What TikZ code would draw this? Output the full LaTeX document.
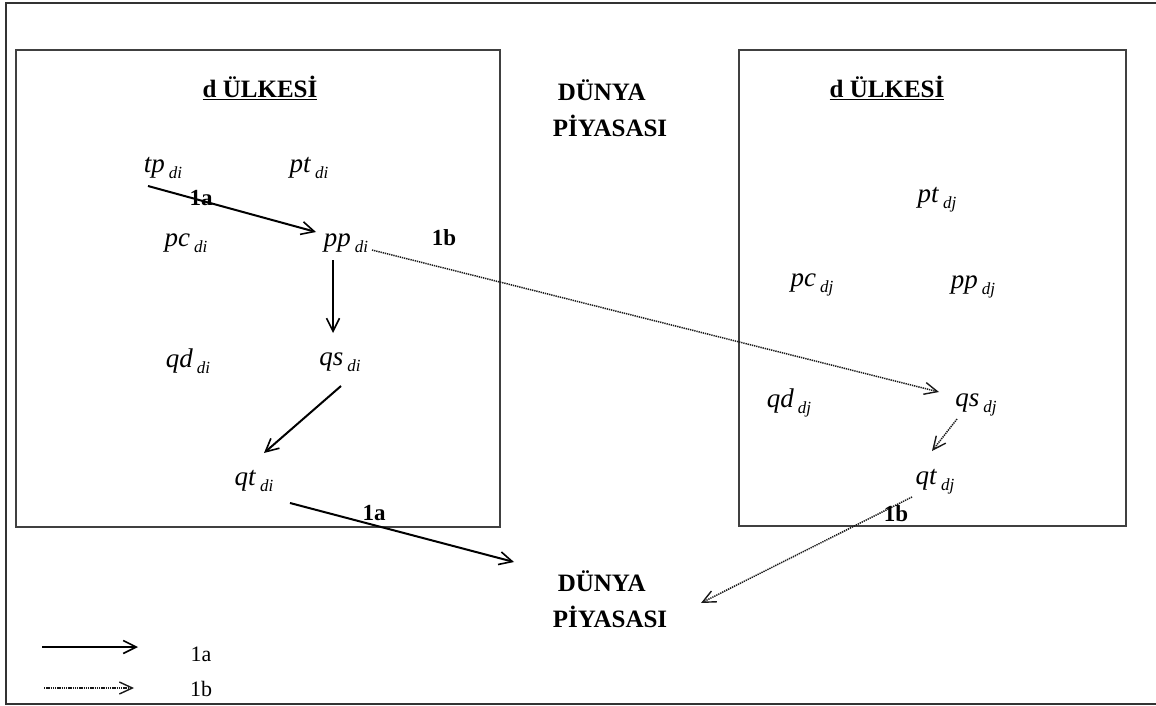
\documentclass[tikz,border=0pt]{standalone}
\usepackage{fontspec}
\setmainfont{Liberation Serif}
\usetikzlibrary{arrows.meta}

% italic variable with a lowered, smaller subscript
\newcommand{\var}[2]{\textit{#1}\hspace{4pt}{\fontsize{17}{17}\selectfont\raisebox{-6pt}{\textit{#2}}}}

\tikzset{
  frame/.style={draw=black!80, line width=1.5pt},
  box/.style={draw=black!75, line width=1.3pt},
  title/.style={font=\fontsize{25}{25}\selectfont\bfseries, inner sep=0pt},
  market/.style={font=\fontsize{25}{36}\selectfont\bfseries, align=left, inner sep=0pt},
  var/.style={font=\fontsize{27}{27}\selectfont, inner sep=2pt},
  tag/.style={font=\fontsize{23}{23}\selectfont\bfseries, inner sep=0pt},
  legtxt/.style={font=\fontsize{22}{22}\selectfont, inner sep=0pt},
  flowa/.style={line width=2pt, -{Straight Barb[length=13pt,width=13pt,line width=1.6pt]}},
  flowb/.style={line width=1.5pt, dash pattern=on 1.3pt off 0.9pt, black!90,
                -{Straight Barb[length=13pt,width=12pt,line width=1.4pt]}}
}

\begin{document}
\begin{tikzpicture}[x=1pt,y=-1pt]
\useasboundingbox (0,0) rectangle (1156,706);
\fill[white] (0,0) rectangle (1156,706);

% outer frame (right side runs past the page edge)
\begin{scope}
\clip (0,0) rectangle (1156,706);
\draw[frame] (6,3) rectangle (1170,704);
\end{scope}

% the two countries
\draw[box] (16,50) rectangle (500,527);
\draw[box] (739,50) rectangle (1126,526);

\node[title] (ti) at (260,88) {\underline{d ÜLKESİ}};
\node[title] (tj) at (887,88) {\underline{d ÜLKESİ}};

% world market labels
\node[market] (wtop) at (610,108) {\hspace{5pt}DÜNYA\\PİYASASI};
\node[market] (wbot) at (610,599) {\hspace{5pt}DÜNYA\\PİYASASI};

% country i variables
\node[var] (tpi) at (163,168) {\var{tp}{di}};
\node[var] (pti) at (309,168) {\var{pt}{di}};
\node[var] (pci) at (186,243) {\var{pc}{di}};
\node[var] (ppi) at (346,243) {\var{pp}{di}};
\node[var] (qdi) at (188,361) {\var{qd}{di}};
\node[var] (qsi) at (340,362) {\var{qs}{di}};
\node[var] (qti) at (254,481) {\var{qt}{di}};

% country j variables
\node[var] (ptj) at (937,200) {\var{pt}{dj}};
\node[var] (pcj) at (812,285) {\var{pc}{dj}};
\node[var] (ppj) at (973,287) {\var{pp}{dj}};
\node[var] (qdj) at (789,403) {\var{qd}{dj}};
\node[var] (qsj) at (976,405) {\var{qs}{dj}};
\node[var] (qtj) at (935,482) {\var{qt}{dj}};

% anchor points for the flows
\coordinate (a1) at (148,186);
\coordinate (a2) at (316,232);
\coordinate (b1) at (333,260);
\coordinate (b2) at (333,333);
\coordinate (c1) at (341,386);
\coordinate (c2) at (264,453);
\coordinate (d1) at (290,503);
\coordinate (d2) at (514,562);
\coordinate (e1) at (372,250);
\coordinate (e2) at (939,392);
\coordinate (f1) at (957,419);
\coordinate (f2) at (932,451);
\coordinate (g1) at (912,497);
\coordinate (g2) at (701,603);

% path 1a
\draw[flowa] (a1) -- (a2);
\draw[flowa] (b1) -- (b2);
\draw[flowa] (c1) -- (c2);
\draw[flowa] (d1) -- (d2);
\node[tag] (l1) at (201,198) {1a};
\node[tag] (l2) at (374,513) {1a};

% path 1b
\draw[flowb] (e1) -- (e2);
\draw[flowb] (f1) -- (f2);
\draw[flowb] (g1) -- (g2);
\node[tag] (l3) at (444,238) {1b};
\node[tag] (l4) at (896,514) {1b};

% legend
\coordinate (la1) at (42,647);
\coordinate (la2) at (138,647);
\coordinate (lb1) at (44,688);
\coordinate (lb2) at (134,688);
\draw[flowa] (la1) -- (la2);
\draw[flowb] (lb1) -- (lb2);
\node[legtxt] (ka) at (201,654) {1a};
\node[legtxt] (kb) at (201,689) {1b};
\end{tikzpicture}
\end{document}
